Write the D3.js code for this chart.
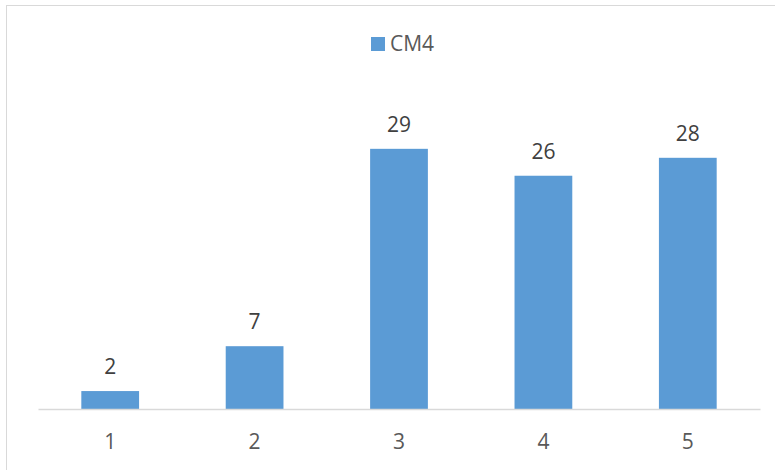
<!DOCTYPE html>
<html><head><meta charset="utf-8">
<script src="https://cdn.jsdelivr.net/npm/d3@7"></script>
<style>body{margin:0;background:#fff}svg{display:block}text{font-family:"Open Sans","Liberation Sans",sans-serif}</style>
</head><body>
<svg id="c" width="775" height="470"></svg>
<script>
const categories = ["1","2","3","4","5"];
const values = [2,7,29,26,28];
const seriesName = "CM4";

const svg = d3.select("#c");
const W = 775, H = 470;
svg.append("rect").attr("x",6.5).attr("y",5.5).attr("width",W+10).attr("height",H+10)
  .attr("fill","#fff").attr("stroke","#D9D9D9").attr("stroke-width",1);

const x = d3.scaleBand().domain(categories).range([38,760]).paddingInner(0.6).paddingOuter(0.3);
const y = d3.scaleLinear().domain([0,35]).range([409,95]);

svg.selectAll("rect.bar").data(values).join("rect").attr("class","bar")
  .attr("x",(d,i)=>x(categories[i])).attr("width",x.bandwidth())
  .attr("y",d=>y(d)).attr("height",d=>y(0)-y(d)).attr("fill","#5B9BD5");

svg.selectAll("text.lbl").data(values).join("text").attr("class","lbl")
  .attr("x",(d,i)=>x(categories[i])+x.bandwidth()/2).attr("y",d=>y(d)-17)
  .attr("text-anchor","middle").attr("font-size",21).attr("fill","#404040").text(d=>d);

const ax = svg.append("g").attr("transform",`translate(0,${y(0)})`)
  .call(d3.axisBottom(x).tickSize(0).tickPadding(0));
ax.select(".domain").attr("stroke","#D9D9D9").attr("stroke-width",1.5);
ax.selectAll("text").attr("dy",null).attr("y",40).attr("font-size",21).attr("fill","#595959")
  .style("font-family",'"Open Sans","Liberation Sans",sans-serif');

const lg = svg.append("g");
lg.append("rect").attr("x",371).attr("y",37).attr("width",14).attr("height",14).attr("fill","#5B9BD5");
lg.append("text").attr("x",390).attr("y",51).attr("font-size",21).attr("fill","#595959").text(seriesName);
</script>
</body></html>
